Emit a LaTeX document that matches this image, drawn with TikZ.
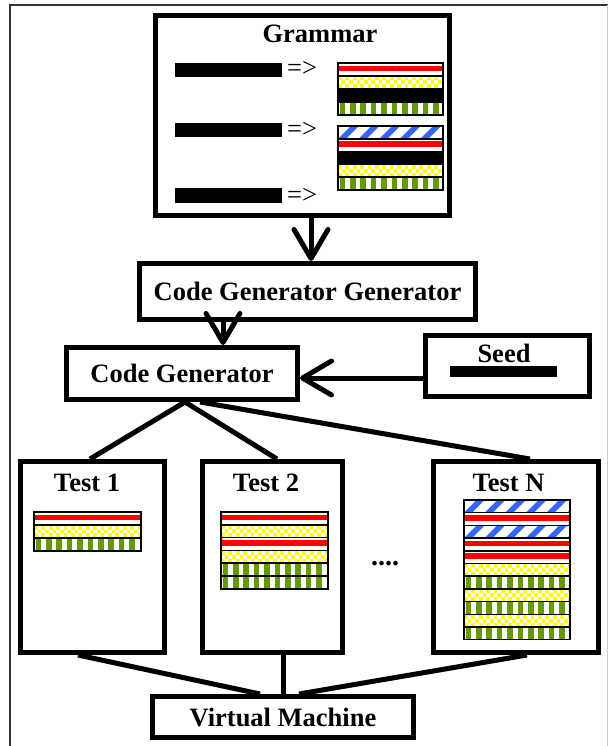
\documentclass[tikz,border=0pt]{standalone}
\usepackage{fontspec}
\setmainfont{Liberation Serif}
\usetikzlibrary{arrows.meta}
\definecolor{pr}{RGB}{255,0,0}
\definecolor{py}{RGB}{255,255,0}
\definecolor{pg}{RGB}{102,153,0}
\definecolor{pb}{RGB}{51,102,255}
\newcommand\lab{\fontsize{26.5}{30}\selectfont\bfseries}
% stripe painters: #1 x, #2 y (top), #3 width, #4 height
\newcommand\stR[4]{%
  \fill[white] (#1,#2) rectangle ++(#3,#4);
  \fill[pr] ({#1},{#2+0.2*#4}) rectangle ({#1+#3},{#2+0.65*#4});}
\newcommand\stK[4]{%
  \fill[black] (#1,#2) rectangle ++(#3,#4);}
\newcommand\stY[4]{%
  \begin{scope}
  \clip (#1,#2) rectangle ++(#3,#4);
  \fill[white] (#1,#2) rectangle ++(#3,#4);
  \foreach \jj in {0,1,2,3}{\foreach \ii in {0,2,...,30}{%
    \pgfmathsetmacro\xo{#1+\ii*3.7+mod(\jj,2)*3.7}%
    \fill[py] ({\xo},{#2+0.8+\jj*3.7}) rectangle ++(3.7,3.7);}}
  \end{scope}}
\newcommand\stG[4]{%
  \begin{scope}
  \clip (#1,#2) rectangle ++(#3,#4);
  \fill[white] (#1,#2) rectangle ++(#3,#4);
  \foreach \ii in {0,...,10}{\fill[pg] ({#1+1.5+\ii*10.4},{#2}) rectangle ++(5.6,#4);}
  \end{scope}}
\newcommand\stB[4]{%
  \begin{scope}
  \clip (#1,#2) rectangle ++(#3,#4);
  \fill[white] (#1,#2) rectangle ++(#3,#4);
  \foreach \ii in {-1,...,6}{\fill[pb] ({#1+\ii*20.6},{#2+#4}) -- ++(#4,-#4) -- ++(8,0) -- ++(-#4,#4) -- cycle;}
  \end{scope}}
% block: #1 x, #2 y, #3 width, #4 stripe height, #5 list of types
\newcommand\pblock[5]{%
  \foreach \tt [count=\kk from 0] in {#5}{%
    \pgfmathsetmacro\yy{#2+\kk*#4}%
    \csname st\tt\endcsname{#1}{\yy}{#3}{#4}%
    \draw[line width=1.5pt] (#1,\yy) rectangle ++(#3,#4);}}
\begin{document}
\begin{tikzpicture}[x=1pt,y=-1pt,
  box/.style 2 args={draw,line width=5pt,rectangle,minimum width=#1,minimum height=#2,inner sep=0pt,fill=white},
  conn/.style={line width=5pt},
  arr/.style={line width=5pt,line cap=round,-{Straight Barb[length=29pt,width=34pt,round]}},
  ttl/.style={anchor=base,inner sep=0pt,font=\lab}]
\useasboundingbox (0,0) rectangle (608,746);
\fill[white] (0,0) rectangle (608,746);
% outer frame
\draw[line width=2pt,black!80] (10,746) -- (10,5) -- (608,5);
\draw[line width=1pt,black!20] (607.5,5) -- (607.5,746);

% boxes
\node[box={294pt}{200pt}] (gram) at (302.5,115.5) {};
\node[box={336pt}{56pt},font=\lab] (cgg) at (307.5,291.5) {Code Generator Generator};
\node[box={231pt}{52pt},font=\lab] (cg) at (182,373.5) {Code Generator};
\node[box={164pt}{61pt}] (seed) at (507.5,366) {};
\node[box={144pt}{191pt}] (t1) at (92.5,557) {};
\node[box={140pt}{191pt}] (t2) at (272.5,557) {};
\node[box={165pt}{191pt}] (tn) at (516,557) {};
\node[box={261pt}{41pt},font=\lab] (vm) at (283,717) {Virtual Machine};

% titles
\node[anchor=base,inner sep=0pt,font=\lab] (gt) at (320,43) {Grammar};
\node[ttl] (seedt) at (504,362) {Seed};
\node[ttl] (t1t) at (87,491) {Test 1};
\node[ttl] (t2t) at (266,491) {Test 2};
\node[ttl] (tnt) at (508.5,491) {Test N};
\node[anchor=base,inner sep=0pt,font=\fontsize{28}{32}\selectfont\bfseries] (dots) at (385,565) {....};

% grammar rules
\fill (175,63) rectangle (282,77);
\fill (175,123) rectangle (282,137);
\fill (175,188) rectangle (282,203);
\node[anchor=base west,inner sep=0pt,font=\fontsize{26.5}{30}\selectfont] (r1) at (287,77) {=>};
\node[anchor=base west,inner sep=0pt,font=\fontsize{26.5}{30}\selectfont] (r2) at (287,138) {=>};
\node[anchor=base west,inner sep=0pt,font=\fontsize{26.5}{30}\selectfont] (r3) at (287,203) {=>};
\pblock{338}{63}{105}{13}{R,Y,K,G}
\pblock{338}{126}{105}{12.8}{B,R,K,Y,G}

% seed bar
\fill (450,366) rectangle (557,377);

% test contents
\pblock{34}{512}{107}{13}{R,Y,G}
\pblock{221}{512}{107}{12.8}{R,Y,R,Y,G,G}
\pblock{464}{500}{106}{12.7}{B,R,B,R,R,Y,G,Y,G,Y,G}

% connectors
\draw[arr] ([xshift=8.5pt]gram.south) -- ([xshift=8.5pt]gram.south |- cgg.north);
\draw[arr] ([xshift=-84.5pt]cgg.south) -- ([xshift=-84.5pt]cgg.south |- cg.north);
\draw[arr] ([yshift=-12pt]seed.west) -- ([yshift=-12pt]seed.west -| cg.east);
\draw[conn] ([xshift=3pt]cg.south) -- ([xshift=-2.5pt]t1.north);
\draw[conn] ([xshift=3pt]cg.south) -- ([xshift=4.5pt]t2.north);
\draw[conn] ([xshift=18pt]cg.south) -- ([xshift=14pt]tn.north);
\draw[conn] ([xshift=-14.5pt]t1.south) -- ([xshift=-23pt]vm.north);
\draw[conn] ([xshift=10.5pt]t2.south) -- ([xshift=10.5pt]t2.south |- vm.north);
\draw[conn] ([xshift=11pt]tn.south) -- ([xshift=16pt]vm.north);
\end{tikzpicture}
\end{document}
